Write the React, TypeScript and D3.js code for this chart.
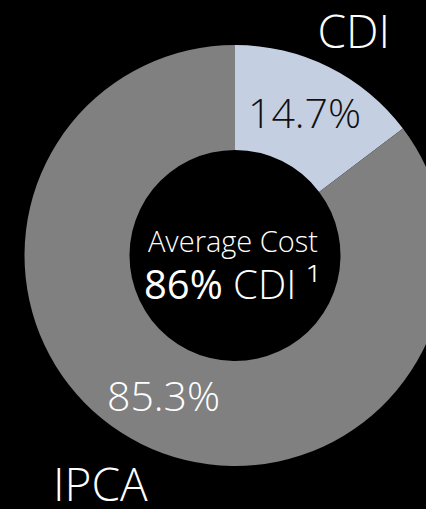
import React from "react";
import * as d3 from "d3";

const categories = ["CDI", "IPCA"];
const values = [14.7, 85.3];
const valueLabels = ["14.7%", "85.3%"];
const centerTitle = "Average Cost";
const centerValue = "86%";
const centerUnit = "CDI ¹";

const W = 426;
const H = 509;
const cx = 235;
const cy = 255.5;
const outerR = 210.5;
const innerR = 105.5;
const colors = ["#c5cfe2", "#808080"];
const FONT = "'Open Sans', 'Noto Sans', sans-serif";

export default function App() {
  const data = categories.map((c, i) => ({ cat: c, v: values[i], label: valueLabels[i] }));
  const pie = d3.pie<any>().value((d) => d.v).sort(null).startAngle(0).endAngle(2 * Math.PI);
  const arcs = pie(data);
  const arc = d3.arc<any>().innerRadius(innerR).outerRadius(outerR);

  return (
    <svg
      width={W}
      height={H}
      style={{ position: "absolute", left: 0, top: 0, background: "#000", display: "block" }}
    >
      <rect x={0} y={0} width={W} height={H} fill="#000" />
      <g transform={`translate(${cx},${cy})`}>
        {arcs.map((a, i) => (
          <path key={i} d={arc(a) as string} fill={colors[i]} />
        ))}
      </g>
      <text x={248} y={128} fontFamily={FONT} fontWeight={300} fontSize={41} fill="#111">
        {valueLabels[0]}
      </text>
      <text x={107} y={411} fontFamily={FONT} fontWeight={300} fontSize={41} fill="#fff">
        {valueLabels[1]}
      </text>
      <text x={390} y={48} textAnchor="end" fontFamily={FONT} fontWeight={300} fontSize={46} fill="#fff">
        {categories[0]}
      </text>
      <text x={53} y={501} fontFamily={FONT} fontWeight={300} fontSize={46} fill="#fff">
        {categories[1]}
      </text>
      <text x={233} y={252} textAnchor="middle" fontFamily={FONT} fontWeight={300} fontSize={29} fill="#fff">
        {centerTitle}
      </text>
      <text x={232} y={299} textAnchor="middle" fontFamily={FONT} fontSize={40} fill="#fff">
        <tspan fontWeight={500}>{centerValue}</tspan>
        <tspan fontWeight={300}>{" " + centerUnit}</tspan>
      </text>
    </svg>
  );
}
